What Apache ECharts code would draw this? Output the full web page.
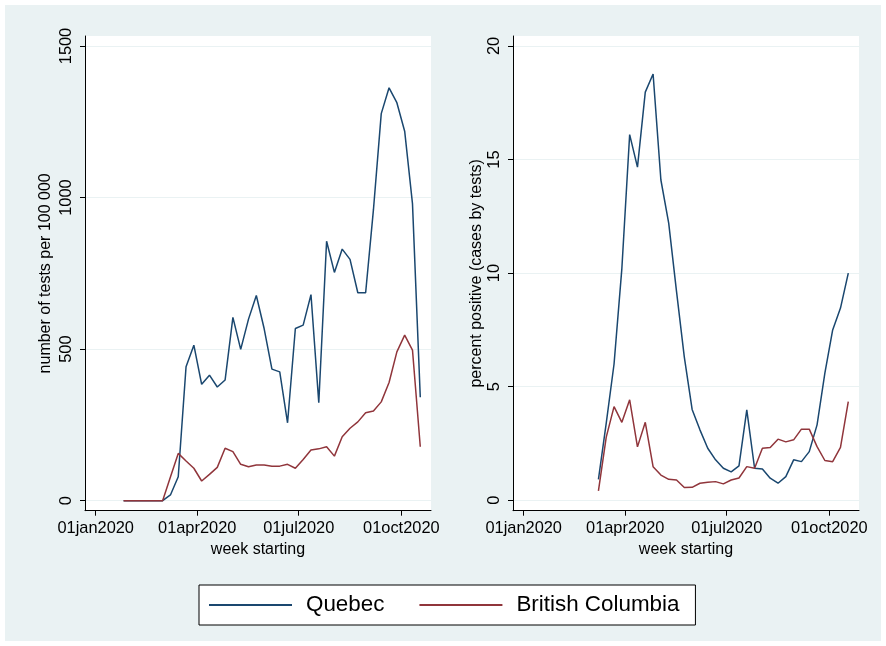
<!DOCTYPE html>
<html><head><meta charset="utf-8">
<script src="https://cdn.jsdelivr.net/npm/echarts@6/dist/echarts.min.js"></script>
<style>html,body{margin:0;padding:0;background:#fff}#c{width:886px;height:646px}</style>
</head><body><div id="c"></div>
<script>
const weeks = ['2020-01-26','2020-02-02','2020-02-09','2020-02-16','2020-02-23','2020-03-01',
  '2020-03-08','2020-03-15','2020-03-22','2020-03-29','2020-04-05','2020-04-12','2020-04-19','2020-04-26',
  '2020-05-03','2020-05-10','2020-05-17','2020-05-24','2020-05-31','2020-06-07','2020-06-14','2020-06-21',
  '2020-06-28','2020-07-05','2020-07-12','2020-07-19','2020-07-26','2020-08-02','2020-08-09','2020-08-16',
  '2020-08-23','2020-08-30','2020-09-06','2020-09-13','2020-09-20','2020-09-27','2020-10-04','2020-10-11','2020-10-18'];
const quebecTests = [0,0,0,0,0,0,
  19,79,442,513,384,414,375,398,605,499,599,677,568,434,425,257,568,579,680,323,856,753,830,796,686,686,960,1277,1362,1313,1219,980,341];
const bcTests = [0,0,0,0,0,0,
  78,156,131,107,65,87,110,173,162,120,112,118,118,114,114,120,107,136,167,171,178,147,211,239,260,290,296,326,390,491,546,497,178];
const quebecPositive = [null,null,null,null,null,null,
  0.92,3.4,6.0,10.2,16.1,14.67,17.97,18.77,14.1,12.2,9.2,6.3,4.0,3.1,2.29,1.78,1.41,1.25,1.51,3.98,1.41,1.38,0.97,0.75,1.04,1.78,1.7,2.14,3.32,5.6,7.5,8.46,10.0];
const bcPositive = [null,null,null,null,null,null,
  0.41,2.78,4.12,3.43,4.42,2.35,3.43,1.48,1.11,0.92,0.89,0.56,0.57,0.75,0.79,0.82,0.72,0.89,0.98,1.48,1.41,2.29,2.32,2.69,2.57,2.66,3.13,3.13,2.36,1.75,1.7,2.33,4.34];
const tickDates = ['2020-01-01','2020-04-01','2020-07-01','2020-10-01'];
const tickLabels = ['01jan2020','01apr2020','01jul2020','01oct2020'];
const testsTicks = [0,500,1000,1500];
const positiveTicks = [0,5,10,15,20];
const seriesNames = ['Quebec','British Columbia'];
const seriesColors = ['#1a476f','#90353b'];

const DAY = 86400000;
const base = Date.parse('2020-01-01');
const toDay = d => (Date.parse(d) - base) / DAY;
const pairs = vals => weeks.map((w, i) => vals[i] == null ? null : [toDay(w), vals[i]]).filter(p => p);
const tickDays = tickDates.map(toDay);
const fmtX = v => { const i = tickDays.indexOf(Math.round(v)); return i >= 0 ? tickLabels[i] : ''; };

const FONT = 'Liberation Sans, Arial, sans-serif';
const txt = { color: '#000', fontFamily: FONT, fontSize: 16 };

function xAxis(gi) {
  return {
    type: 'value', gridIndex: gi, min: -9.59, max: 300.6,
    name: 'week starting', nameLocation: 'middle', nameGap: 29,
    nameTextStyle: txt,
    axisLine: { onZero: false, lineStyle: { color: '#000', width: 1 } },
    axisTick: { customValues: tickDays, length: 5, lineStyle: { color: '#000' } },
    axisLabel: { customValues: tickDays, formatter: fmtX, margin: 10, ...txt, fontSize: 16.4 },
    splitLine: { show: false }
  };
}
function yAxis(gi, name, min, max, ticks, gap) {
  return {
    type: 'value', gridIndex: gi, min: min, max: max,
    name: name, nameLocation: 'middle', nameGap: gap, nameRotate: 90,
    nameTextStyle: txt,
    axisLine: { show: true, onZero: false, lineStyle: { color: '#000', width: 1 } },
    axisTick: { show: true, customValues: ticks, length: 5, lineStyle: { color: '#000' } },
    axisLabel: { customValues: ticks, rotate: 90, margin: 11, formatter: v => String(v), ...txt, fontSize: 16.4 },
    splitLine: { show: true, lineStyle: { color: '#eaf2f3', width: 1 } }
  };
}
function line(name, gi, vals, color) {
  return {
    name: name, type: 'line', xAxisIndex: gi, yAxisIndex: gi,
    data: pairs(vals), symbol: 'none', showSymbol: false,
    lineStyle: { color: color, width: 1.5 }, itemStyle: { color: color },
    connectNulls: false, animation: false
  };
}

const chart = echarts.init(document.getElementById('c'), null, { renderer: 'canvas' });
chart.setOption({
  animation: false,
  backgroundColor: '#ffffff',
  graphic: [{ type: 'rect', shape: { x: 5, y: 5, width: 876, height: 636 }, style: { fill: '#eaf2f3' }, z: -10, silent: true }],
  grid: [
    { left: 85, top: 36, width: 346, height: 474.7, show: true, backgroundColor: '#fff', borderWidth: 0 },
    { left: 513, top: 36, width: 346, height: 474.7, show: true, backgroundColor: '#fff', borderWidth: 0 }
  ],
  xAxis: [xAxis(0), xAxis(1)],
  yAxis: [
    yAxis(0, 'number of tests per 100 000', -33, 1533, testsTicks, 31),
    yAxis(1, 'percent positive (cases by tests)', -0.46, 20.44, positiveTicks, 28)
  ],
  legend: {
    data: seriesNames, left: 199, top: 585, orient: 'horizontal',
    padding: [9, 16, 9, 10], borderColor: '#000', borderWidth: 1, backgroundColor: '#fff', borderRadius: 0,
    icon: 'rect', itemWidth: 83, itemHeight: 2, itemGap: 35,
    textStyle: { color: '#000', fontFamily: FONT, fontSize: 22.4, padding: [0, 0, 0, 9] }
  },
  series: [
    line(seriesNames[0], 0, quebecTests, seriesColors[0]),
    line(seriesNames[1], 0, bcTests, seriesColors[1]),
    line(seriesNames[0], 1, quebecPositive, seriesColors[0]),
    line(seriesNames[1], 1, bcPositive, seriesColors[1])
  ]
});
</script></body></html>
